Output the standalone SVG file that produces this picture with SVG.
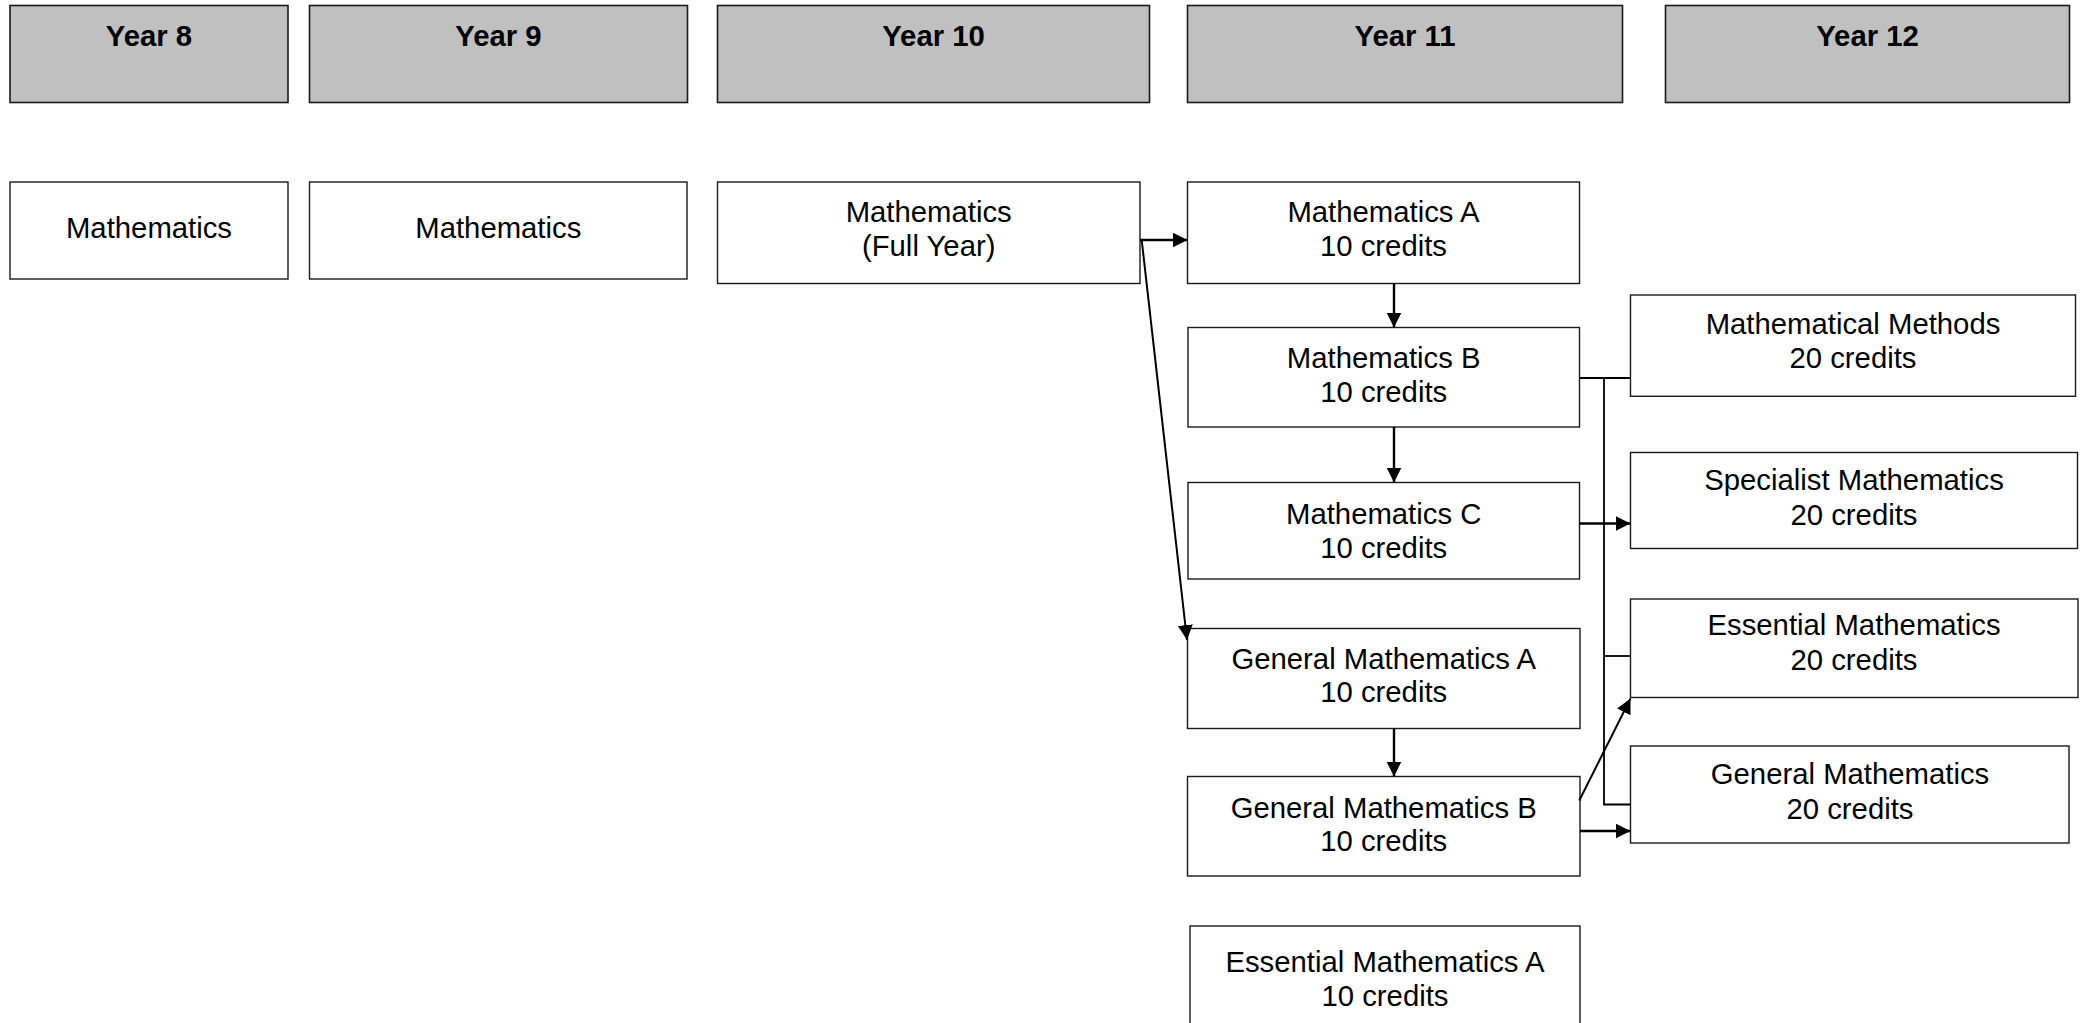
<svg xmlns="http://www.w3.org/2000/svg" width="2085" height="1023" viewBox="0 0 2085 1023">
<defs>
<style>
.hdr{fill:#c0c0c0;stroke:#1a1a1a;stroke-width:1.6}
.box{fill:#fff;stroke:#1a1a1a;stroke-width:1.4}
.ht{font-family:"Liberation Sans",Arial,sans-serif;font-size:29.3px;font-weight:bold;text-anchor:middle;fill:#000}
.t{font-family:"Liberation Sans",Arial,sans-serif;font-size:29.3px;text-anchor:middle;fill:#000}
.arr{stroke:#000;stroke-width:2.4;fill:none;marker-end:url(#ah)}
.ln{stroke:#000;stroke-width:1.8;fill:none}
</style>
<marker id="ah" markerUnits="userSpaceOnUse" markerWidth="16" markerHeight="16" refX="15" refY="7.5" orient="auto">
<path d="M0,0 L15,7.5 L0,15 Z" fill="#000"/>
</marker>
</defs>
<rect width="2085" height="1023" fill="#fff"/>

<g id="year8"><rect class="hdr" x="10" y="5.5" width="278" height="97"/><text class="ht" x="149" y="46">Year 8</text></g>
<g id="year9"><rect class="hdr" x="309.5" y="5.5" width="378" height="97"/><text class="ht" x="498.5" y="46">Year 9</text></g>
<g id="year10"><rect class="hdr" x="717.5" y="5.5" width="432" height="97"/><text class="ht" x="933.5" y="46">Year 10</text></g>
<g id="year11"><rect class="hdr" x="1187.5" y="5.5" width="435" height="97"/><text class="ht" x="1405" y="46">Year 11</text></g>
<g id="year12"><rect class="hdr" x="1665.5" y="5.5" width="404" height="97"/><text class="ht" x="1867.5" y="46">Year 12</text></g>

<g id="math8"><rect class="box" x="10" y="182" width="278" height="97"/><text class="t" x="149" y="238">Mathematics</text></g>
<g id="math9"><rect class="box" x="309.5" y="182" width="377.5" height="97"/><text class="t" x="498.3" y="238">Mathematics</text></g>
<g id="math10"><rect class="box" x="717.5" y="182" width="422.5" height="101.5"/><text class="t" x="928.7" y="221.5">Mathematics</text><text class="t" x="928.7" y="255.5">(Full Year)</text></g>

<g id="mathA"><rect class="box" x="1187.5" y="182" width="392" height="101.5"/><text class="t" x="1383.5" y="222">Mathematics A</text><text class="t" x="1383.5" y="256">10 credits</text></g>
<g id="mathB"><rect class="box" x="1188" y="327.5" width="391.5" height="99.5"/><text class="t" x="1383.7" y="368">Mathematics B</text><text class="t" x="1383.7" y="402">10 credits</text></g>
<g id="mathC"><rect class="box" x="1188" y="482.5" width="391.5" height="96.5"/><text class="t" x="1383.7" y="523.5">Mathematics C</text><text class="t" x="1383.7" y="557.5">10 credits</text></g>
<g id="genA"><rect class="box" x="1187.5" y="628.5" width="392.5" height="100"/><text class="t" x="1383.7" y="668.5">General Mathematics A</text><text class="t" x="1383.7" y="702">10 credits</text></g>
<g id="genB"><rect class="box" x="1187.5" y="776.5" width="392.5" height="99.5"/><text class="t" x="1383.7" y="817.5">General Mathematics B</text><text class="t" x="1383.7" y="851">10 credits</text></g>
<g id="essA"><rect class="box" x="1190" y="926" width="390" height="120"/><text class="t" x="1385" y="972">Essential Mathematics A</text><text class="t" x="1385" y="1006">10 credits</text></g>

<g id="methods"><rect class="box" x="1630.5" y="295" width="445" height="101.3"/><text class="t" x="1853" y="333.5">Mathematical Methods</text><text class="t" x="1853" y="367.5">20 credits</text></g>
<g id="specialist"><rect class="box" x="1630.5" y="452.5" width="447" height="96"/><text class="t" x="1854" y="490">Specialist Mathematics</text><text class="t" x="1854" y="524.5">20 credits</text></g>
<g id="essential"><rect class="box" x="1630.5" y="599" width="447.5" height="98.5"/><text class="t" x="1854" y="635">Essential Mathematics</text><text class="t" x="1854" y="670">20 credits</text></g>
<g id="general"><rect class="box" x="1630.5" y="746" width="438.5" height="97"/><text class="t" x="1850" y="783.5">General Mathematics</text><text class="t" x="1850" y="818.5">20 credits</text></g>

<g id="connectors">
<line class="arr" x1="1140" y1="240" x2="1187.5" y2="240"/>
<line class="arr" x1="1141.7" y1="240" x2="1187" y2="640" style="stroke-width:2"/>
<line class="arr" x1="1394" y1="283.5" x2="1394" y2="327.5"/>
<line class="arr" x1="1394" y1="427" x2="1394" y2="482.5"/>
<line class="arr" x1="1394" y1="728.5" x2="1394" y2="776.5"/>
<line class="arr" x1="1579.5" y1="523.5" x2="1630.5" y2="523.5"/>
<line class="arr" x1="1580" y1="831" x2="1630.5" y2="831"/>
<line class="arr" x1="1579.3" y1="800.5" x2="1630.5" y2="698.5" style="stroke-width:2"/>
<line class="ln" x1="1579.5" y1="378" x2="1630.5" y2="378"/>
<polyline class="ln" points="1604,378 1604,804.5 1630.5,804.5"/>
<line class="ln" x1="1604" y1="656" x2="1630.5" y2="656"/>
</g>
</svg>
